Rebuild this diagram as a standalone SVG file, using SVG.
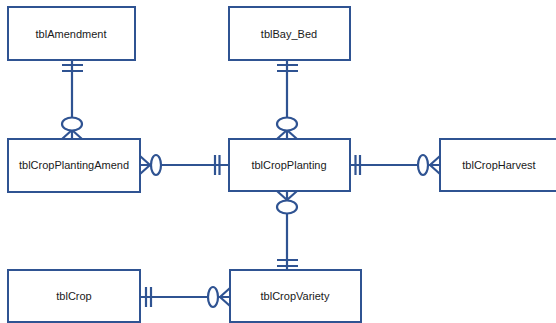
<svg xmlns="http://www.w3.org/2000/svg" width="556" height="323" viewBox="0 0 556 323">
<style>
.box{fill:#ffffff;stroke:#2F5392;stroke-width:2}
.lbl{font-family:"Liberation Sans",Arial,sans-serif;font-size:11px;fill:#1a1a1a;text-anchor:middle;dominant-baseline:central}
.ln{fill:none;stroke:#2F5392;stroke-width:2.2}
.ov{fill:#ffffff;stroke:#2F5392;stroke-width:2.2}
</style>
<rect width="556" height="323" fill="#ffffff"/>
<g id="connectors">
  <!-- tblAmendment -> tblCropPlantingAmend -->
  <g id="c1">
    <path class="ln" d="M72 60V139M62 65H83M62 71H83M72 130L62 139M72 130L82 139"/>
    <ellipse class="ov" cx="72" cy="124" rx="10" ry="6.5"/>
  </g>
  <!-- tblCropPlantingAmend -> tblCropPlanting -->
  <g id="c2">
    <path class="ln" d="M140 165H229M215 155V175M219.5 155V175M150 165L140 156M150 165L140 174"/>
    <ellipse class="ov" cx="156" cy="165" rx="5" ry="10"/>
  </g>
  <!-- tblBay_Bed -> tblCropPlanting -->
  <g id="c3">
    <path class="ln" d="M287 60V139M277 65H298M277 71H298M287 130L277 139M287 130L297 139"/>
    <ellipse class="ov" cx="287" cy="124" rx="10" ry="6.5"/>
  </g>
  <!-- tblCropPlanting -> tblCropHarvest -->
  <g id="c4">
    <path class="ln" d="M350 165H440M355.5 155V175M360 155V175M430 165L440 156M430 165L440 174"/>
    <ellipse class="ov" cx="423" cy="165" rx="5" ry="10"/>
  </g>
  <!-- tblCropPlanting -> tblCropVariety -->
  <g id="c5">
    <path class="ln" d="M287 191V270M277 260H298M277 266H298M287 200L277 191M287 200L297 191"/>
    <ellipse class="ov" cx="287" cy="207" rx="10" ry="6.5"/>
  </g>
  <!-- tblCrop -> tblCropVariety -->
  <g id="c6">
    <path class="ln" d="M140 297H230M146 287V307M151 287V307M220 297L230 288M220 297L230 306"/>
    <ellipse class="ov" cx="213" cy="297" rx="5" ry="10"/>
  </g>
</g>
<g id="tblAmendment">
  <rect class="box" x="8" y="7" width="127" height="53"/>
  <text class="lbl" x="71" y="34">tblAmendment</text>
</g>
<g id="tblBay_Bed">
  <rect class="box" x="229" y="7" width="121" height="53"/>
  <text class="lbl" x="289" y="34">tblBay_Bed</text>
</g>
<g id="tblCropPlantingAmend">
  <rect class="box" x="8" y="139" width="132" height="53"/>
  <text class="lbl" x="74" y="165">tblCropPlantingAmend</text>
</g>
<g id="tblCropPlanting">
  <rect class="box" x="229" y="139" width="121" height="52"/>
  <text class="lbl" x="289" y="165">tblCropPlanting</text>
</g>
<g id="tblCropHarvest">
  <rect class="box" x="440" y="139" width="122" height="52"/>
  <text class="lbl" x="499" y="165">tblCropHarvest</text>
</g>
<g id="tblCrop">
  <rect class="box" x="8" y="270" width="132" height="52"/>
  <text class="lbl" x="74" y="296">tblCrop</text>
</g>
<g id="tblCropVariety">
  <rect class="box" x="230" y="270" width="131" height="52"/>
  <text class="lbl" x="295" y="296">tblCropVariety</text>
</g>
</svg>
